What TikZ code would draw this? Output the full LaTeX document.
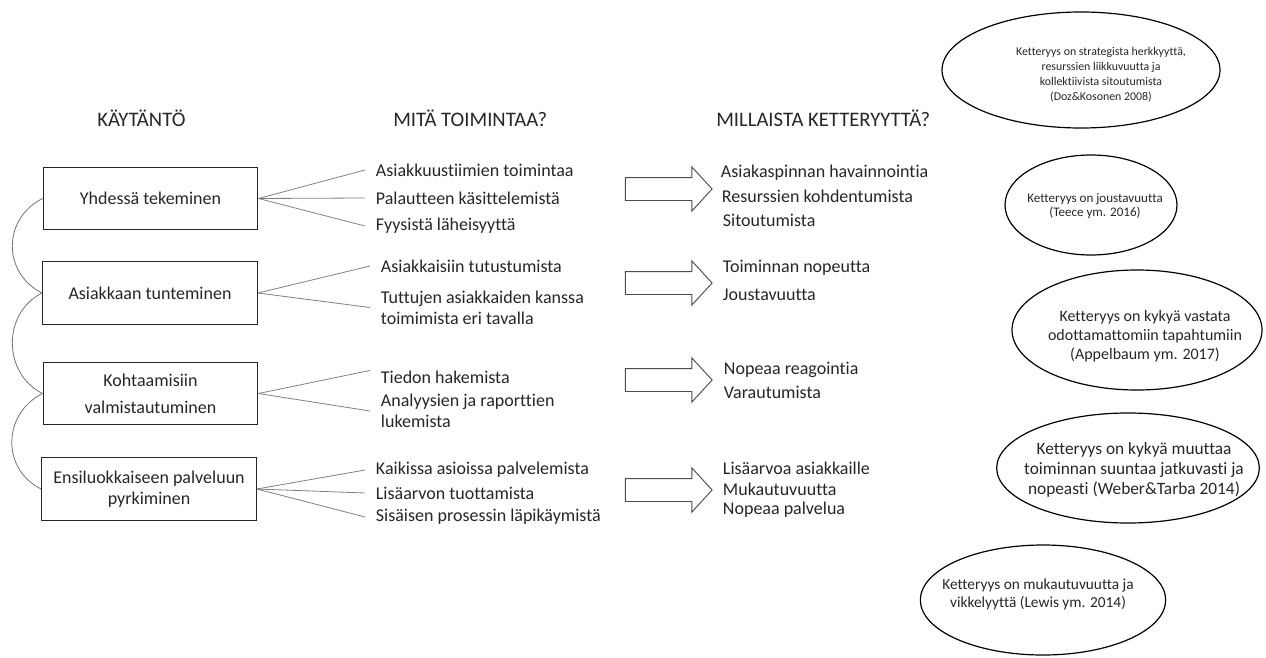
\documentclass[tikz,border=0pt]{standalone}
\usepackage{fontspec}
\setmainfont{Carlito}[Ligatures=NoCommon]
\usetikzlibrary{shapes.geometric,shapes.arrows}

\begin{document}
\begin{tikzpicture}[x=0.75pt,y=-0.75pt,
            box/.style={draw=black!85,line width=0.9pt,minimum width=161pt,minimum height=47pt,align=center,text=black!85,font=\fontsize{13.5}{16}\selectfont},
            item/.style={anchor=west,inner xsep=8pt,inner ysep=0pt,align=left,text=black!85,font=\fontsize{13.5}{16}\selectfont},
            head/.style={anchor=west,inner sep=0pt,text height=10pt,text depth=0pt,text=black!85,font=\fontsize{15.5}{18}\selectfont},
            note/.style={draw,ellipse,line width=0.9pt,inner sep=0pt},
            notetext/.style={align=center,inner sep=0pt,text=black!85},
            fan/.style={draw=black!50,line width=0.6pt},
            link/.style={draw=black!55,line width=0.6pt},
            bigarrow/.style={draw=black!70,line width=0.7pt,fill=white,single arrow,minimum height=65pt,inner xsep=0pt,inner ysep=8.25pt,single arrow head extend=8pt,single arrow tip angle=95}]
            \useasboundingbox (0,0) rectangle (1266,657);

            \node[head] (h1) at (97,120) {KÄYTÄNTÖ};
            \node[head] (h2) at (393,120) {MITÄ TOIMINTAA?};
            \node[head] (h3) at (716,120) {MILLAISTA KETTERYYTTÄ?};

            \node[box] (b1) at (150.5,198.5) {Yhdessä tekeminen};
            \node[box] (b2) at (150,293) {Asiakkaan tunteminen};
            \node[box] (b3) at (150.5,393.5) {Kohtaamisiin\\[4pt]valmistautuminen};
            \node[box] (b4) at (149,489) {Ensiluokkaiseen palveluun\\pyrkiminen};

            \draw[link] (b1.west) .. controls +(-40,20) and +(-40,-20) .. (b2.west);
            \draw[link] (b2.west) .. controls +(-40,20) and +(-40,-20) .. (b3.west);
            \draw[link] (b3.west) .. controls +(-40,20) and +(-40,-20) .. (b4.west);

            \node[item] (m11) at (365,170) {Asiakkuustiimien toimintaa};
            \node[item] (m12) at (365,198) {Palautteen käsittelemistä};
            \node[item] (m13) at (365,226) {Fyysistä läheisyyttä};
            \node[item] (m21) at (370,266) {Asiakkaisiin tutustumista};
            \node[item] (m22) at (370,307.5) {Tuttujen asiakkaiden kanssa\\toimimista eri tavalla};
            \node[item] (m31) at (370,377) {Tiedon hakemista};
            \node[item] (m32) at (370,411) {Analyysien ja raporttien\\lukemista};
            \node[item] (m41) at (365,470) {Kaikissa asioissa palvelemista};
            \node[item] (m42) at (365,493) {Lisäarvon tuottamista};
            \node[item] (m43) at (365,517) {Sisäisen prosessin läpikäymistä};

            \draw[fan] (b1.east) -- (m11.west);
            \draw[fan] (b1.east) -- (m12.west);
            \draw[fan] (b1.east) -- (m13.west);
            \draw[fan] (b2.east) -- (m21.west);
            \draw[fan] (b2.east) -- (m22.west);
            \draw[fan] (b3.east) -- (m31.north west);
            \draw[fan] (b3.east) -- (m32.west);
            \draw[fan] (b4.east) -- (m41.west);
            \draw[fan] (b4.east) -- (m42.west);
            \draw[fan] (b4.east) -- (m43.west);

            \node[bigarrow] (a1) at (663.5,189) {};
            \node[bigarrow] (a2) at (663.5,283) {};
            \node[bigarrow] (a3) at (663.5,380) {};
            \node[bigarrow] (a4) at (663.5,490) {};

            \node[item] (k11) at (710,173) {Asiakaspinnan havainnointia};
            \node[item] (k12) at (711,196) {Resurssien kohdentumista};
            \node[item] (k13) at (712,220) {Sitoutumista};
            \node[item] (k21) at (712,268) {Toiminnan nopeutta};
            \node[item] (k22) at (712,295) {Joustavuutta};
            \node[item] (k31) at (713,370) {Nopeaa reagointia};
            \node[item] (k32) at (713,392) {Varautumista};
            \node[item] (k41) at (712,468) {Lisäarvoa asiakkaille};
            \node[item] (k42) at (712,489) {Mukautuvuutta};
            \node[item] (k43) at (712,510) {Nopeaa palvelua};

            \node[note,minimum width=208.5pt,minimum height=87pt,
                label={[notetext,xshift=15pt,yshift=-3.75pt,font=\fontsize{8.9}{11.25}\selectfont]center:{Ketteryys on strategista herkkyyttä,\\resurssien liikkuvuutta ja\\kollektiivista sitoutumista\\(Doz\&Kosonen 2008)}}] (n1) at (1081,70) {};
            \node[note,minimum width=129pt,minimum height=75pt,
                label={[notetext,xshift=3pt,yshift=-0.75pt,font=\fontsize{9.8}{10.8}\selectfont]center:{Ketteryys on joustavuutta\\(Teece ym. 2016)}}] (n2) at (1091,205) {};
            \node[note,minimum width=187.5pt,minimum height=90pt,
                label={[notetext,xshift=6pt,yshift=-5pt,font=\fontsize{12}{14.25}\selectfont]center:{Ketteryys on kykyä vastata\\odottamattomiin tapahtumiin\\(Appelbaum ym. 2017)}}] (n3) at (1137,330) {};
            \node[note,minimum width=197pt,minimum height=82.5pt,
                label={[notetext,xshift=4.5pt,yshift=-1.5pt,font=\fontsize{13}{15}\selectfont]center:{Ketteryys on kykyä muuttaa\\toiminnan suuntaa jatkuvasti ja\\nopeasti (Weber\&Tarba 2014)}}] (n4) at (1128,468) {};
            \node[note,minimum width=184pt,minimum height=82.5pt,
                label={[notetext,xshift=-3.75pt,yshift=4.5pt,font=\fontsize{11.5}{13.5}\selectfont]center:{Ketteryys on mukautuvuutta ja\\vikkelyyttä (Lewis ym. 2014)}}] (n5) at (1043,600) {};
        \end{tikzpicture}
\end{document}
